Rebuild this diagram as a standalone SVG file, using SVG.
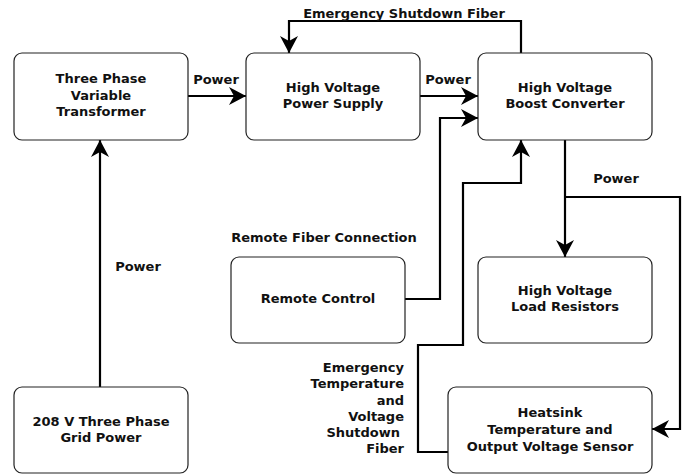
<svg xmlns="http://www.w3.org/2000/svg" width="693" height="475" viewBox="0 0 693 475">
<style>
.box{fill:#fff;stroke:#222;stroke-width:1.2}
.t{font-family:"DejaVu Sans",Verdana,sans-serif;font-weight:bold;font-size:13px;fill:#111;text-anchor:middle}
.r{text-anchor:end}
.c{fill:none;stroke:#000;stroke-width:2.2}
</style>
<defs>
<marker id="a" viewBox="-18 -10 20 20" markerWidth="20" markerHeight="20" refX="0" refY="0" orient="auto" markerUnits="userSpaceOnUse">
<path d="M0,0 L-17,-9 L-12,0 L-17,9 Z" fill="#000"/>
</marker>
</defs>
<g id="connectors">
<path class="c" d="M188,96 H246" marker-end="url(#a)"/>
<path class="c" d="M420,96 H478" marker-end="url(#a)"/>
<path class="c" d="M521,53 V21 H289 V53" marker-end="url(#a)"/>
<path class="c" d="M100,387 V140" marker-end="url(#a)"/>
<path class="c" d="M405,299 H440 V118 H478" marker-end="url(#a)"/>
<path class="c" d="M448,452 H418 V345 H463 V183 H521 V140" marker-end="url(#a)"/>
<path class="c" d="M565,140 V257" marker-end="url(#a)"/>
<path class="c" d="M565,197 H680 V429 H652" marker-end="url(#a)"/>
<text class="t" x="404" y="18">Emergency Shutdown Fiber</text>
<text class="t" x="216" y="84">Power</text>
<text class="t" x="448" y="84">Power</text>
<text class="t" x="138" y="271">Power</text>
<text class="t" x="616" y="183">Power</text>
<text class="t" x="324" y="242">Remote Fiber Connection</text>
<text class="t r" x="404" y="372">Emergency</text>
<text class="t r" x="404" y="388">Temperature</text>
<text class="t r" x="404" y="405">and</text>
<text class="t r" x="404" y="421">Voltage</text>
<text class="t r" x="400" y="437">Shutdown</text>
<text class="t r" x="404" y="453">Fiber</text>
</g>
<g id="transformer">
<rect class="box" x="14" y="53" width="174" height="87" rx="8"/>
<text class="t" x="101" y="83">Three Phase</text>
<text class="t" x="101" y="100">Variable</text>
<text class="t" x="101" y="116">Transformer</text>
</g>
<g id="power-supply">
<rect class="box" x="246" y="53" width="174" height="87" rx="8"/>
<text class="t" x="333" y="92">High Voltage</text>
<text class="t" x="333" y="108">Power Supply</text>
</g>
<g id="boost-converter">
<rect class="box" x="478" y="53" width="174" height="87" rx="8"/>
<text class="t" x="565" y="92">High Voltage</text>
<text class="t" x="565" y="108">Boost Converter</text>
</g>
<g id="remote-control">
<rect class="box" x="231" y="257" width="174" height="86" rx="8"/>
<text class="t" x="318" y="303">Remote Control</text>
</g>
<g id="load-resistors">
<rect class="box" x="478" y="257" width="174" height="86" rx="8"/>
<text class="t" x="565" y="295">High Voltage</text>
<text class="t" x="565" y="311">Load Resistors</text>
</g>
<g id="grid-power">
<rect class="box" x="14" y="387" width="174" height="86" rx="8"/>
<text class="t" x="101" y="426">208 V Three Phase</text>
<text class="t" x="101" y="442">Grid Power</text>
</g>
<g id="heatsink-sensor">
<rect class="box" x="448" y="387" width="204" height="86" rx="8"/>
<text class="t" x="550" y="417">Heatsink</text>
<text class="t" x="550" y="434">Temperature and</text>
<text class="t" x="550" y="451">Output Voltage Sensor</text>
</g>
</svg>
